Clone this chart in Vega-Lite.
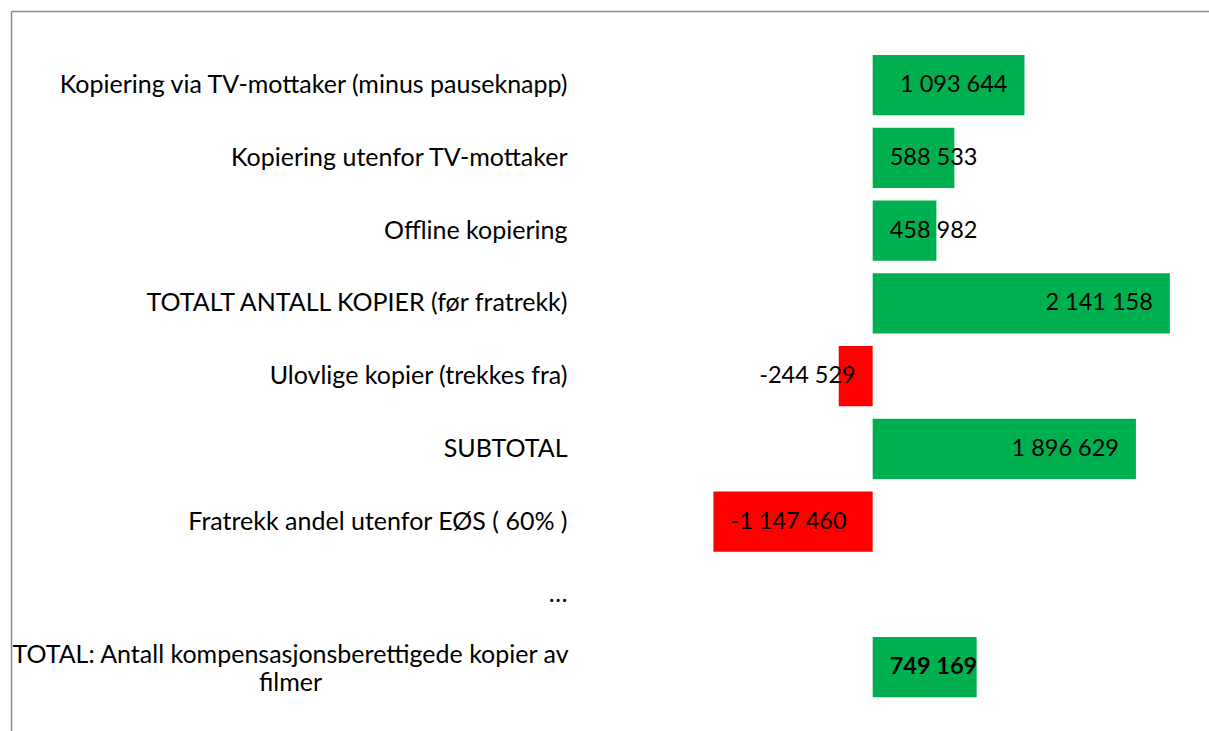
{
  "$schema": "https://vega.github.io/schema/vega-lite/v6.json",
  "width": 1198,
  "height": 720,
  "autosize": {"type": "none"},
  "padding": {"left": 11, "top": 11, "right": 0, "bottom": 0},
  "background": "white",
  "config": {
    "view": {"stroke": null},
    "font": "Lato",
    "locale": {"number": {"decimal": ",", "thousands": " ", "grouping": [3], "currency": ["", " kr"], "minus": "-"}}
  },
  "data": {
    "values": [
      {"category": "Kopiering via TV-mottaker (minus pauseknapp)", "value": 1093644},
      {"category": "Kopiering utenfor TV-mottaker", "value": 588533},
      {"category": "Offline kopiering", "value": 458982},
      {"category": "TOTALT ANTALL KOPIER (før fratrekk)", "value": 2141158},
      {"category": "Ulovlige kopier (trekkes fra)", "value": -244529},
      {"category": "SUBTOTAL", "value": 1896629},
      {"category": "Fratrekk andel utenfor EØS ( 60% )", "value": -1147460},
      {"category": "…", "value": null},
      {"category": "TOTAL: Antall kompensasjonsberettigede kopier av filmer", "value": 749169}
    ]
  },
  "encoding": {
    "y": {
      "field": "category",
      "type": "nominal",
      "sort": null,
      "scale": {
        "domain": [
          "Kopiering via TV-mottaker (minus pauseknapp)",
          "Kopiering utenfor TV-mottaker",
          "Offline kopiering",
          "TOTALT ANTALL KOPIER (før fratrekk)",
          "Ulovlige kopier (trekkes fra)",
          "SUBTOTAL",
          "Fratrekk andel utenfor EØS ( 60% )",
          "…",
          "TOTAL: Antall kompensasjonsberettigede kopier av filmer"
        ],
        "paddingInner": 0.171, "paddingOuter": 0.534, "align": 0.566
      },
      "axis": {
        "title": null,
        "orient": "left",
        "ticks": false,
        "tickSize": 0,
        "grid": false,
        "domain": true,
        "domainColor": "#8c8c8c",
        "domainWidth": 1.5,
        "labelFont": "Lato",
        "labelFontSize": 25,
        "labelColor": "#000000",
        "labelLimit": 2000,
        "labelBaseline": "middle",
        "labelLineHeight": 28,
        "labelExpr": "indexof(datum.value,'TOTAL:')===0 ? ['TOTAL: Antall kompensasjonsberettigede kopier av','filmer'] : datum.label",
        "labelAlign": {"condition": {"test": "indexof(datum.value,'TOTAL:')===0", "value": "center"}, "value": "right"},
        "labelPadding": {"condition": {"test": "indexof(datum.value,'TOTAL:')===0", "value": -279}, "value": -556},
        "labelOffset": {"condition": {"test": "indexof(datum.value,'TOTAL:')===0", "value": -12}, "value": 0}
      }
    }
  },
  "layer": [
    {
      "mark": {"type": "bar"},
      "encoding": {
        "x": {
          "field": "value",
          "type": "quantitative",
          "scale": {"domain": [-6208000, 2423000], "nice": false, "zero": false},
          "axis": {"orient": "top", "title": null, "labels": false, "ticks": false, "grid": false, "domain": true, "domainColor": "#8c8c8c", "domainWidth": 1.5}
        },
        "color": {"condition": {"test": "datum.value < 0", "value": "#FF0000"}, "value": "#00B050"}
      }
    },
    {
      "transform": [{"filter": "datum.value >= 1000000"}],
      "mark": {"type": "text", "align": "right", "baseline": "middle", "dx": -17, "font": "Lato", "fontSize": 23.5, "color": "#000000"},
      "encoding": {
        "x": {"field": "value", "type": "quantitative"},
        "text": {"field": "value", "type": "quantitative", "format": ",d"}
      }
    },
    {
      "transform": [{"filter": "datum.value > 0 && datum.value < 1000000 && indexof(datum.category,'TOTAL:') !== 0"}],
      "mark": {"type": "text", "align": "left", "baseline": "middle", "dx": 17, "font": "Lato", "fontSize": 23.5, "color": "#000000"},
      "encoding": {
        "x": {"datum": 0, "type": "quantitative"},
        "text": {"field": "value", "type": "quantitative", "format": ",d"}
      }
    },
    {
      "transform": [{"filter": "indexof(datum.category,'TOTAL:') === 0"}],
      "mark": {"type": "text", "align": "left", "baseline": "middle", "dx": 17, "font": "Lato", "fontSize": 23.5, "fontWeight": "bold", "color": "#000000"},
      "encoding": {
        "x": {"datum": 0, "type": "quantitative"},
        "text": {"field": "value", "type": "quantitative", "format": ",d"}
      }
    },
    {
      "transform": [{"filter": "datum.value <= -1000000"}],
      "mark": {"type": "text", "align": "left", "baseline": "middle", "dx": 17, "font": "Lato", "fontSize": 23.5, "color": "#000000"},
      "encoding": {
        "x": {"field": "value", "type": "quantitative"},
        "text": {"field": "value", "type": "quantitative", "format": ",d"}
      }
    },
    {
      "transform": [{"filter": "datum.value < 0 && datum.value > -1000000"}],
      "mark": {"type": "text", "align": "right", "baseline": "middle", "dx": -17, "font": "Lato", "fontSize": 23.5, "color": "#000000"},
      "encoding": {
        "x": {"datum": 0, "type": "quantitative"},
        "text": {"field": "value", "type": "quantitative", "format": ",d"}
      }
    }
  ]
}
